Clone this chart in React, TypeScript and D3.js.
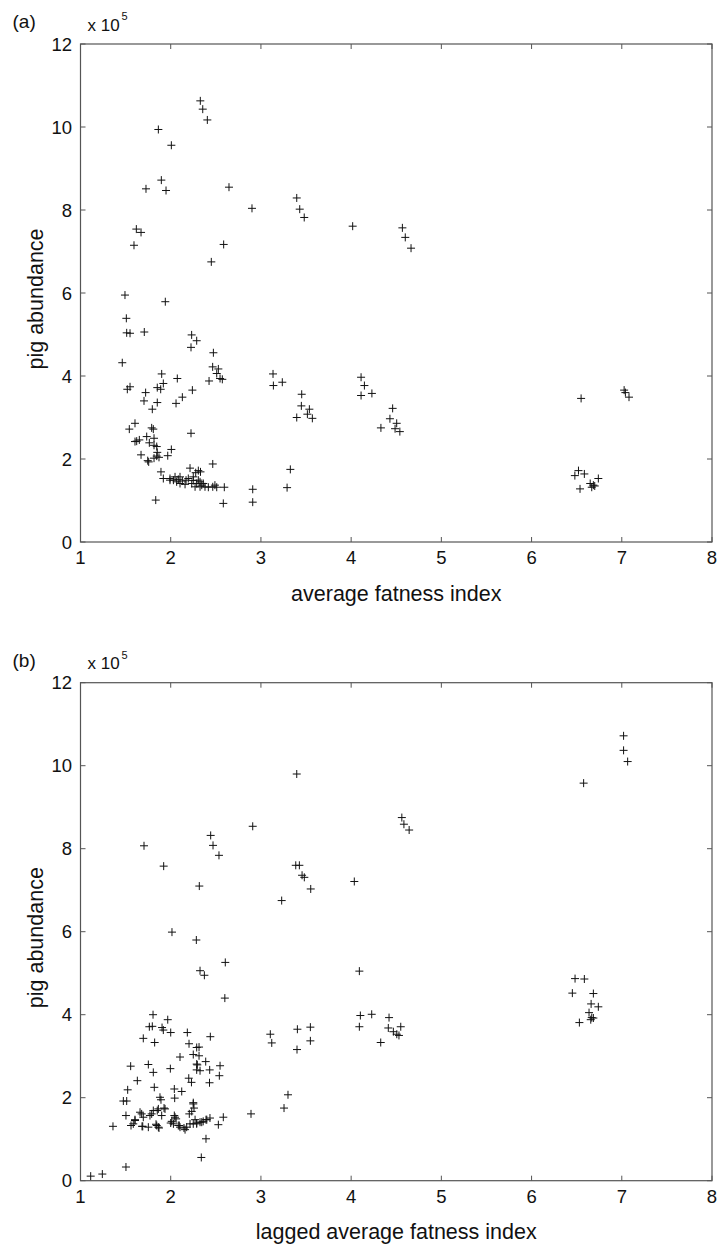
import React from 'react';
import * as d3 from 'd3';

// x ticks / y ticks (abundance in units of 10^5)
const xTicks = [1, 2, 3, 4, 5, 6, 7, 8];
const yTicks = [0, 2, 4, 6, 8, 10, 12];

// (a) average fatness index vs pig abundance (x10^5)
const pointsA: [number, number][] = [
  [2.328, 10.63], [2.355, 10.43], [2.406, 10.17], [1.863, 9.94], [2.007, 9.56],
  [1.896, 8.72], [1.948, 8.47], [1.726, 8.51], [2.646, 8.55], [2.901, 8.04],
  [3.397, 8.29], [3.43, 8.02], [3.48, 7.82], [4.017, 7.61], [1.619, 7.54],
  [1.671, 7.46], [1.593, 7.15], [2.587, 7.17], [2.45, 6.75], [1.493, 5.95],
  [1.94, 5.79], [4.568, 7.57], [4.6, 7.34], [4.664, 7.08],
  [3.237, 3.85], [3.452, 3.56], [3.448, 3.28], [3.537, 3.2], [3.397, 3.0],
  [3.515, 3.08], [3.57, 2.98], [4.11, 3.97], [4.147, 3.77], [4.11, 3.53],
  [4.23, 3.58], [4.46, 3.22], [4.43, 2.97], [4.33, 2.75], [4.505, 2.86],
  [4.487, 2.73], [4.54, 2.66], [3.326, 1.75], [3.29, 1.31], [6.549, 3.46],
  [7.026, 3.66], [7.04, 3.6], [7.08, 3.49], [6.52, 1.72], [6.48, 1.6],
  [6.585, 1.64], [6.537, 1.28], [6.74, 1.53], [6.65, 1.41], [6.685, 1.37],
  [6.667, 1.32], [6.7, 1.35],
  [1.508, 5.39], [1.512, 5.04], [1.549, 5.03], [1.707, 5.06], [2.232, 4.99],
  [2.288, 4.85], [2.225, 4.69], [2.473, 4.56], [1.463, 4.32], [2.465, 4.22],
  [2.528, 4.17], [2.51, 4.06], [2.547, 3.94], [2.572, 3.92], [2.425, 3.88],
  [1.9, 4.05], [2.073, 3.94], [1.918, 3.82], [1.851, 3.72], [1.889, 3.68],
  [1.549, 3.74], [1.519, 3.68], [1.722, 3.6], [1.704, 3.4], [1.851, 3.36],
  [1.796, 3.2], [2.059, 3.34], [2.129, 3.49], [2.24, 3.66], [3.134, 4.05],
  [3.138, 3.77], [2.225, 2.62], [1.604, 2.86], [1.541, 2.72], [1.623, 2.43],
  [1.652, 2.46], [1.789, 2.75], [1.807, 2.72], [1.734, 2.54], [1.815, 2.5],
  [1.763, 2.39], [1.815, 2.33], [1.851, 2.16], [1.845, 2.07], [1.815, 2.02],
  [1.671, 2.1], [1.745, 1.96], [1.756, 1.93], [1.967, 2.08], [2.007, 2.23],
  [1.892, 1.69], [1.918, 1.53], [1.992, 1.49], [2.048, 1.57], [2.084, 1.51],
  [2.129, 1.47], [2.066, 1.45], [2.214, 1.78], [2.306, 1.72], [2.466, 1.88],
  [2.195, 1.53], [2.25, 1.48], [2.288, 1.41], [2.325, 1.45], [2.344, 1.37],
  [2.27, 1.33], [2.38, 1.33], [2.417, 1.32], [2.466, 1.33], [2.51, 1.32],
  [2.594, 1.32], [2.159, 1.39], [2.03, 1.49], [1.834, 1.01], [2.583, 0.93],
  [2.909, 1.27], [2.909, 0.96],
  [2.103, 1.41], [2.17, 1.49], [2.233, 1.41], [2.306, 1.49], [2.325, 1.33],
  [2.361, 1.41], [2.277, 1.67], [2.33, 1.69], [2.25, 1.57], [2.49, 1.37],
  [1.992, 1.53], [2.103, 1.57], [1.845, 2.3], [1.87, 2.04], [1.604, 2.42],
];

// (b) lagged average fatness index vs pig abundance (x10^5)
const pointsB: [number, number][] = [
  [3.397, 9.8], [2.909, 8.54], [2.443, 8.32], [2.469, 8.08], [2.535, 7.84],
  [1.704, 8.07], [1.922, 7.58], [2.317, 7.1], [3.386, 7.6], [3.426, 7.6],
  [3.456, 7.36], [3.481, 7.31], [3.552, 7.03], [3.23, 6.75], [4.035, 7.21],
  [2.014, 5.99], [2.284, 5.8],
  [7.02, 10.72], [7.02, 10.37], [7.065, 10.1], [6.577, 9.58], [4.562, 8.75],
  [4.585, 8.59], [4.643, 8.45],
  [4.091, 5.05], [4.102, 3.98], [4.228, 4.01], [4.091, 3.71], [4.42, 3.93],
  [4.412, 3.68], [4.468, 3.59], [4.55, 3.71], [4.506, 3.53], [4.53, 3.5],
  [4.328, 3.33], [3.404, 3.65], [3.548, 3.7], [3.4, 3.16], [3.548, 3.37],
  [3.3, 2.07], [3.256, 1.75], [6.482, 4.87], [6.585, 4.86], [6.452, 4.52],
  [6.685, 4.51], [6.66, 4.26], [6.74, 4.19], [6.637, 4.05], [6.667, 3.93],
  [6.685, 3.92], [6.656, 3.88], [6.53, 3.81],
  [2.605, 5.26], [2.325, 5.06], [2.373, 4.95], [2.6, 4.4], [1.804, 4.0],
  [1.967, 3.88], [1.763, 3.71], [1.796, 3.72], [1.904, 3.69], [1.918, 3.63],
  [2.0, 3.57], [2.184, 3.57], [1.696, 3.43], [1.822, 3.33], [2.439, 3.47],
  [2.203, 3.3], [2.288, 3.21], [2.314, 3.22], [2.25, 3.04], [2.314, 3.01],
  [2.103, 2.98], [2.388, 2.87], [2.288, 2.81], [2.325, 2.65], [2.432, 2.67],
  [2.547, 2.77], [2.539, 2.53], [1.556, 2.76], [1.752, 2.8], [1.807, 2.61],
  [1.996, 2.7], [1.63, 2.41], [2.2, 2.47], [2.23, 2.37], [2.43, 2.36],
  [1.523, 2.19], [1.818, 2.25], [2.04, 2.21], [2.122, 2.15], [1.881, 2.01],
  [1.892, 1.95], [2.044, 1.99], [1.475, 1.92], [1.512, 1.92], [1.937, 1.73],
  [2.25, 1.88], [2.258, 1.75], [2.89, 1.61], [1.66, 1.65], [1.789, 1.61],
  [1.851, 1.69], [1.9, 1.57], [1.696, 1.53], [1.604, 1.47], [1.504, 1.57],
  [1.56, 1.33], [1.36, 1.31], [1.682, 1.31], [1.837, 1.36], [1.863, 1.29],
  [2.011, 1.43], [2.048, 1.53], [2.095, 1.33], [2.147, 1.27], [2.214, 1.37],
  [2.27, 1.47], [2.288, 1.37], [2.344, 1.41], [2.391, 1.47], [2.435, 1.51],
  [2.583, 1.53], [2.528, 1.35], [2.391, 1.01], [2.339, 0.56], [1.504, 0.33],
  [1.113, 0.11], [1.242, 0.16], [3.104, 3.53], [3.12, 3.32],
  [2.295, 2.79], [2.288, 2.67], [2.25, 1.85], [2.233, 1.67], [2.206, 1.61],
  [1.926, 1.75], [1.863, 1.73], [1.807, 1.69], [1.77, 1.57], [1.678, 1.61],
  [1.604, 1.45], [1.585, 1.37], [1.69, 1.31], [1.752, 1.29], [1.845, 1.33],
  [1.87, 1.27], [2.0, 1.39], [2.03, 1.37], [2.084, 1.33], [2.103, 1.29],
  [2.159, 1.23], [2.177, 1.29], [2.25, 1.37], [2.288, 1.39], [2.325, 1.41],
  [2.36, 1.43], [2.4, 1.47], [2.04, 1.57], [2.06, 1.49],
];

const FONT = '"Liberation Sans", Arial, Helvetica, sans-serif';
const LEFT = 80.5;
const RIGHT = 712;
const PLOT_H = 498;
const TICK = 5;

type PanelProps = {
  top: number;
  tag: string;
  xlabel: string;
  pts: [number, number][];
};

function Panel({ top, tag, xlabel, pts }: PanelProps) {
  const x = d3.scaleLinear().domain([1, 8]).range([LEFT, RIGHT]);
  const y = d3.scaleLinear().domain([0, 12]).range([top + PLOT_H, top]);
  const bottom = top + PLOT_H;
  const axisColor = '#555';
  return (
    <g>
      <text x={12.5} y={top - 16} fontFamily={FONT} fontSize={19} fill="#111">{tag}</text>
      <text x={87.5} y={top - 13.5} fontFamily={FONT} fontSize={17} fill="#111">x 10</text>
      <text x={121.5} y={top - 24} fontFamily={FONT} fontSize={11} fill="#111">5</text>

      <rect x={LEFT} y={top} width={RIGHT - LEFT} height={PLOT_H} fill="none" stroke={axisColor} strokeWidth={1.2} />

      {xTicks.map((t) => (
        <g key={'x' + t}>
          <line x1={x(t)} x2={x(t)} y1={bottom} y2={bottom - TICK} stroke={axisColor} strokeWidth={1} />
          <line x1={x(t)} x2={x(t)} y1={top} y2={top + TICK} stroke={axisColor} strokeWidth={1} />
          <text x={x(t)} y={bottom + 22} textAnchor="middle" fontFamily={FONT} fontSize={18.5} fill="#111">{t}</text>
        </g>
      ))}
      {yTicks.map((t) => (
        <g key={'y' + t}>
          <line x1={LEFT} x2={LEFT + TICK} y1={y(t)} y2={y(t)} stroke={axisColor} strokeWidth={1} />
          <line x1={RIGHT} x2={RIGHT - TICK} y1={y(t)} y2={y(t)} stroke={axisColor} strokeWidth={1} />
          <text x={72} y={y(t) + 6.5} textAnchor="end" fontFamily={FONT} fontSize={18.5} fill="#111">{t}</text>
        </g>
      ))}

      <text x={(LEFT + RIGHT) / 2} y={bottom + 58.5} textAnchor="middle" fontFamily={FONT} fontSize={21.5} fill="#111">{xlabel}</text>
      <text transform={`translate(43,${top + 255}) rotate(-90)`} textAnchor="middle" fontFamily={FONT} fontSize={21.5} fill="#111">pig abundance</text>

      {pts.map(([px, py], i) => (
        <path key={i} d={`M${x(px) - 4},${y(py)}H${x(px) + 4}M${x(px)},${y(py) - 4}V${y(py) + 4}`} stroke="#111" strokeWidth={1} fill="none" />
      ))}
    </g>
  );
}

export default function App() {
  return (
    <svg width={721} height={1248} style={{ position: 'absolute', left: 0, top: 0, background: '#fff' }}>
      <rect x={0} y={0} width={721} height={1248} fill="#fff" />
      <Panel top={44} tag="(a)" xlabel="average fatness index" pts={pointsA} />
      <Panel top={682.7} tag="(b)" xlabel="lagged average fatness index" pts={pointsB} />
    </svg>
  );
}
